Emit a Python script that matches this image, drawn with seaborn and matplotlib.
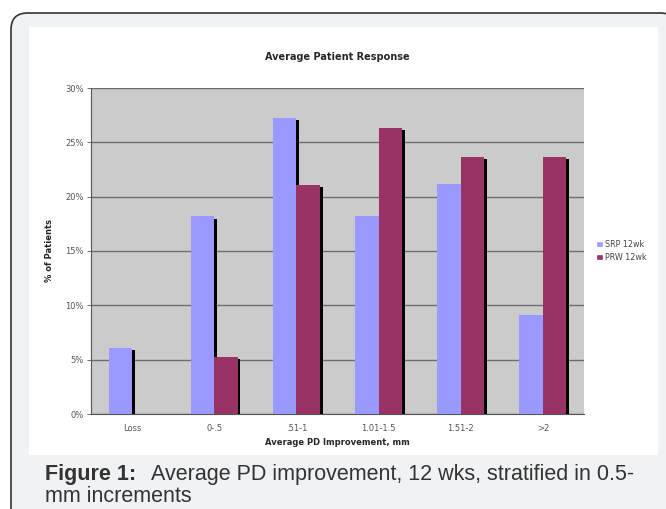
import numpy as np
import pandas as pd
import seaborn as sns
import matplotlib.pyplot as plt
import matplotlib.patheffects as pe
from matplotlib.patches import FancyBboxPatch, Rectangle

# data (% of patients)
categories = ['Loss', '0-.5', '.51-1', '1.01-1.5', '1.51-2', '>2']
srp_12wk = [6.06, 18.18, 27.27, 18.18, 21.21, 9.09]
prw_12wk = [0.0, 5.26, 21.05, 26.32, 23.68, 23.68]
series = ['SRP 12wk', 'PRW 12wk']
palette = {'SRP 12wk': '#9999ff', 'PRW 12wk': '#993366'}

df = pd.DataFrame({
    'category': categories * 2,
    'pct': srp_12wk + prw_12wk,
    'series': [series[0]] * len(categories) + [series[1]] * len(categories),
})

sns.set_style('white')
plt.rcParams['font.family'] = ['DejaVu Sans']

fig = plt.figure(figsize=(6.66, 5.09), dpi=100)
fig.patch.set_facecolor('white')

# rounded caption box + white chart panel behind the axes
box = FancyBboxPatch((11 / 666, -0.05), 1.0, 1 - 13 / 509 + 0.05, transform=fig.transFigure,
                     boxstyle='round,pad=0,rounding_size=0.025', facecolor='#f1f2f4',
                     edgecolor='#333333', linewidth=1.2, mutation_aspect=666 / 509, zorder=-2)
fig.patches.append(box)
fig.patches.append(Rectangle((29 / 666, 1 - 455 / 509), 629 / 666, 428 / 509,
                             transform=fig.transFigure, facecolor='white',
                             edgecolor='none', zorder=-1))

ax = fig.add_axes([91 / 666, 1 - 414 / 509, 493 / 666, 326 / 509])
ax.set_facecolor('#cbcbcb')
sns.barplot(data=df, x='category', y='pct', hue='series', palette=palette,
            width=0.57, saturation=1, ax=ax, legend=True, zorder=3)

leg = ax.legend(loc='center left', bbox_to_anchor=(1.01, 0.5), frameon=False,
                fontsize=5.8, handlelength=0.8, handleheight=0.8, handletextpad=0.3,
                labelspacing=0.5)
for t in leg.get_texts():
    t.set_color('#444444')

# excel style drop shadow on the bars
for bar in ax.patches:
    bar.set_edgecolor('none')
    bar.set_path_effects([pe.SimplePatchShadow(offset=(2, -1.5), shadow_rgbFace='black', alpha=1),
                          pe.Normal()])

ax.set_ylim(0, 30)
ax.set_xlim(-0.5, len(categories) - 0.5)
ax.set_yticks(np.arange(0, 31, 5))
ax.set_yticklabels([f'{v}%' for v in range(0, 31, 5)])
ax.yaxis.grid(True, color='#6e6e6e', linewidth=1.0, zorder=1)
ax.set_axisbelow(True)
ax.set_xticks(np.arange(-0.5, len(categories)), minor=True)
ax.tick_params(axis='x', which='major', length=0, labelsize=6, labelcolor='#555555', pad=7)
ax.tick_params(axis='x', which='minor', length=3, width=0.6, color='#555555', direction='out')
ax.tick_params(axis='y', length=3, width=0.6, color='#555555', labelsize=6,
               labelcolor='#555555', direction='out', left=True, pad=2)
for side in ['top', 'right']:
    ax.spines[side].set_visible(False)
ax.spines['left'].set_color('#555555')
ax.spines['bottom'].set_color('#555555')
ax.spines['left'].set_linewidth(0.8)
ax.spines['bottom'].set_linewidth(0.8)

ax.set_xlabel('Average PD Improvement, mm', fontsize=6, fontweight='bold', labelpad=4)
ax.set_ylabel('% of Patients', fontsize=6, fontweight='bold', labelpad=8)
ax.set_title('Average Patient Response', fontsize=7, fontweight='bold', pad=20)

cap = dict(fontsize=15.5, family='Liberation Sans', color='#333333', va='baseline')
fig.text(45 / 666, 1 - 480 / 509, 'Figure 1:', fontweight='bold', **cap)
fig.text(151 / 666, 1 - 480 / 509, 'Average PD improvement, 12 wks, stratified in 0.5-', **cap)
fig.text(45 / 666, 1 - 502 / 509, 'mm increments', **cap)

fig.savefig('out.png', dpi=100)
